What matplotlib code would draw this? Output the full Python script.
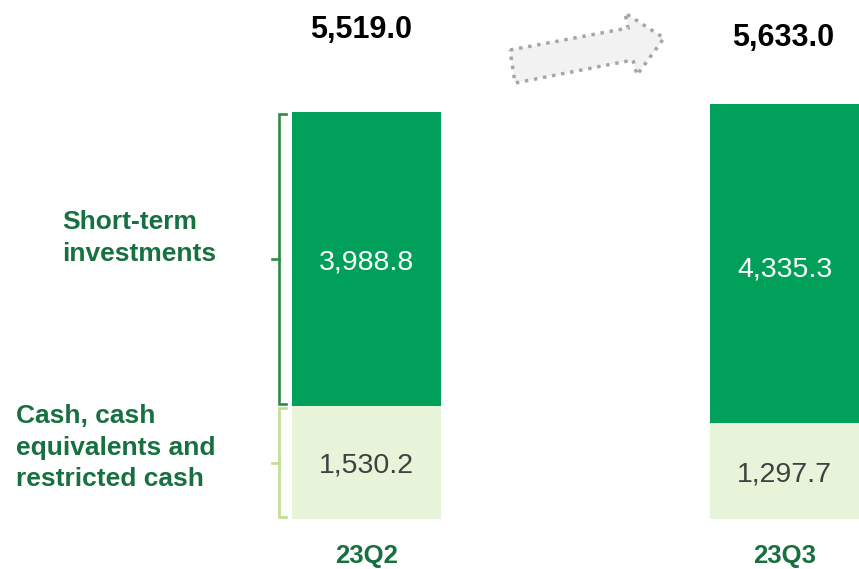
import matplotlib.pyplot as plt
from matplotlib.patches import Polygon

plt.rcParams['font.family'] = ['Liberation Sans', 'DejaVu Sans']

# data
quarters = ['23Q2', '23Q3']
cash = [1530.2, 1297.7]
short_term = [3988.8, 4335.3]
totals = [5519.0, 5633.0]
segment_names = ['Cash, cash\nequivalents and\nrestricted cash', 'Short-term\ninvestments']

DARK = '#00A05B'
LIGHT = '#E8F4DA'
TEXT_GREEN = '#17703F'
BRACE_DARK = '#2E8B47'
BRACE_LIGHT = '#BFE08F'

fig = plt.figure(figsize=(8.59, 5.69), dpi=100)
ax = fig.add_axes([0, 0, 1, 1])
ax.set_xlim(-0.877, 1.178)
ax.set_ylim(-678, 7038)
ax.axis('off')

px = 1 / 418          # one pixel in x data units
py = 13.56            # one pixel in y data units
x = [0, 1]
width = 149 * px

ax.bar(x, cash, width=width, color=LIGHT)
ax.bar(x, short_term, width=width, bottom=cash, color=DARK)

inner_shift = [[-3, -3], [-3, -6]]  # px shift of value labels (cash, short-term)
for i in range(2):
    ax.text(x[i], cash[i] / 2 + inner_shift[0][i] * py, f'{cash[i]:,.1f}',
            ha='center', va='center', fontsize=20.5, color='#404040')
    ax.text(x[i], cash[i] + short_term[i] / 2 + inner_shift[1][i] * py,
            f'{short_term[i]:,.1f}', ha='center', va='center',
            fontsize=20.5, color='white')
    ax.text(x[i], -37 * py, quarters[i], ha='center', va='center',
            fontsize=18.5, fontweight='bold', color=TEXT_GREEN)

# totals above the bars
total_offsets = [82, 66]
total_dx = [-5, -1]
for i in range(2):
    ax.text(x[i] + total_dx[i] * px, totals[i] + total_offsets[i] * py,
            f'{totals[i]:,.1f}', ha='center', va='center',
            fontsize=22, fontweight='bold', color='black')

# braces beside first bar
left = x[0] - width / 2
segments = [(0, cash[0]), (cash[0], cash[0] + short_term[0])]
brace_colors = [BRACE_LIGHT, BRACE_DARK]
for (lo, hi), c in zip(segments, brace_colors):
    y0, y1 = lo + 2 * py, hi - 2 * py
    xv = left - 13 * px
    ax.plot([left - 6 * px, xv, xv, left - 6 * px], [y0, y0, y1, y1],
            color=c, lw=1.9, solid_joinstyle='miter')
    ax.plot([xv, left - 20 * px], [(lo + hi) / 2] * 2, color=c, lw=1.9)

# segment labels
ax.text(62 * px - 0.877, cash[0] + short_term[0] / 2 + 21 * py, segment_names[1],
        ha='left', va='center', fontsize=19, fontweight='bold',
        color=TEXT_GREEN, linespacing=1.38)
ax.text(16 * px - 0.877, cash[0] / 2 + 15 * py, segment_names[0],
        ha='left', va='center', fontsize=19, fontweight='bold',
        color=TEXT_GREEN, linespacing=1.38)

# growth arrow (figure pixel coords)
W, H = 859, 569
arrow_px = [(510, 50), (628, 28), (625, 13), (664, 38), (637, 75), (633, 60), (515, 83)]
arrow = Polygon([(a / W, 1 - b / H) for a, b in arrow_px], closed=True,
                transform=fig.transFigure, facecolor='#F2F2F2',
                edgecolor='#A6A6A6', linestyle=':', linewidth=2.5)
fig.patches.append(arrow)

fig.savefig('out.png', dpi=100)
